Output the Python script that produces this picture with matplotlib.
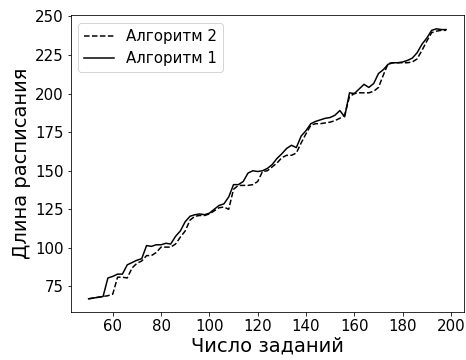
import matplotlib
matplotlib.use("Agg")
import matplotlib.pyplot as plt
import numpy as np

x = list(range(50, 199, 2))

alg1 = [67, 67.5, 68, 68.5, 80.5, 81.5, 83, 83, 89, 90.5,
        92, 93, 101.5, 101, 102, 102, 103, 102.5, 107.5, 111,
        117, 120.5, 121.5, 122, 121.5, 122.5, 125, 127.5, 128.5, 133,
        141, 141, 143, 148.5, 150, 149.5, 150, 151.5, 154, 158,
        161, 164.5, 166.5, 165, 172.5, 176, 180.5, 182, 183, 184,
        184.5, 186, 189, 185, 200.5, 200, 203, 206, 204, 206.5,
        213, 215.5, 219, 220, 220, 220.5, 221.5, 223, 226.5, 232,
        236, 241, 242, 241.5, 241.5]

alg2 = [67, 67.5, 68, 68.5, 69, 70, 81, 81, 80.5, 87,
        90, 91.5, 95, 95, 97, 100.5, 100.5, 100.5, 102.5, 107,
        111, 118, 120.5, 121, 121, 122, 124, 126, 126.5, 125,
        138, 140.5, 140.5, 140.5, 141, 143, 149.5, 150, 152.5, 155,
        158.5, 160, 160, 161.5, 168, 174, 179.5, 180.5, 180.5, 181,
        181.5, 182.5, 184, 186, 198, 200, 200.5, 200.5, 200.5, 201.5,
        204, 212, 219.5, 220, 220, 220, 220, 220.5, 222.5, 228,
        234, 239.5, 240.5, 241, 241]

fig = plt.figure(figsize=(466/72, 360/72), dpi=72)
ax = fig.add_axes([70.7/466, 1 - 312.3/360, (464 - 70.7)/466, (312.3 - 15.3)/360])

ax.plot(x, alg2, 'k--', lw=1.5, label='Алгоритм 2')
ax.plot(x, alg1, 'k-', lw=1.5, label='Алгоритм 1')

ax.set_xticks([60, 80, 100, 120, 140, 160, 180, 200])
ax.set_yticks([75, 100, 125, 150, 175, 200, 225, 250])
ax.tick_params(labelsize=15)
ax.set_xlabel('Число заданий', fontsize=19.5, labelpad=2)
ax.set_ylabel('Длина расписания', fontsize=19.5, labelpad=4)
ax.legend(loc='upper left', fontsize=15)

fig.savefig('out.png', dpi=72)
